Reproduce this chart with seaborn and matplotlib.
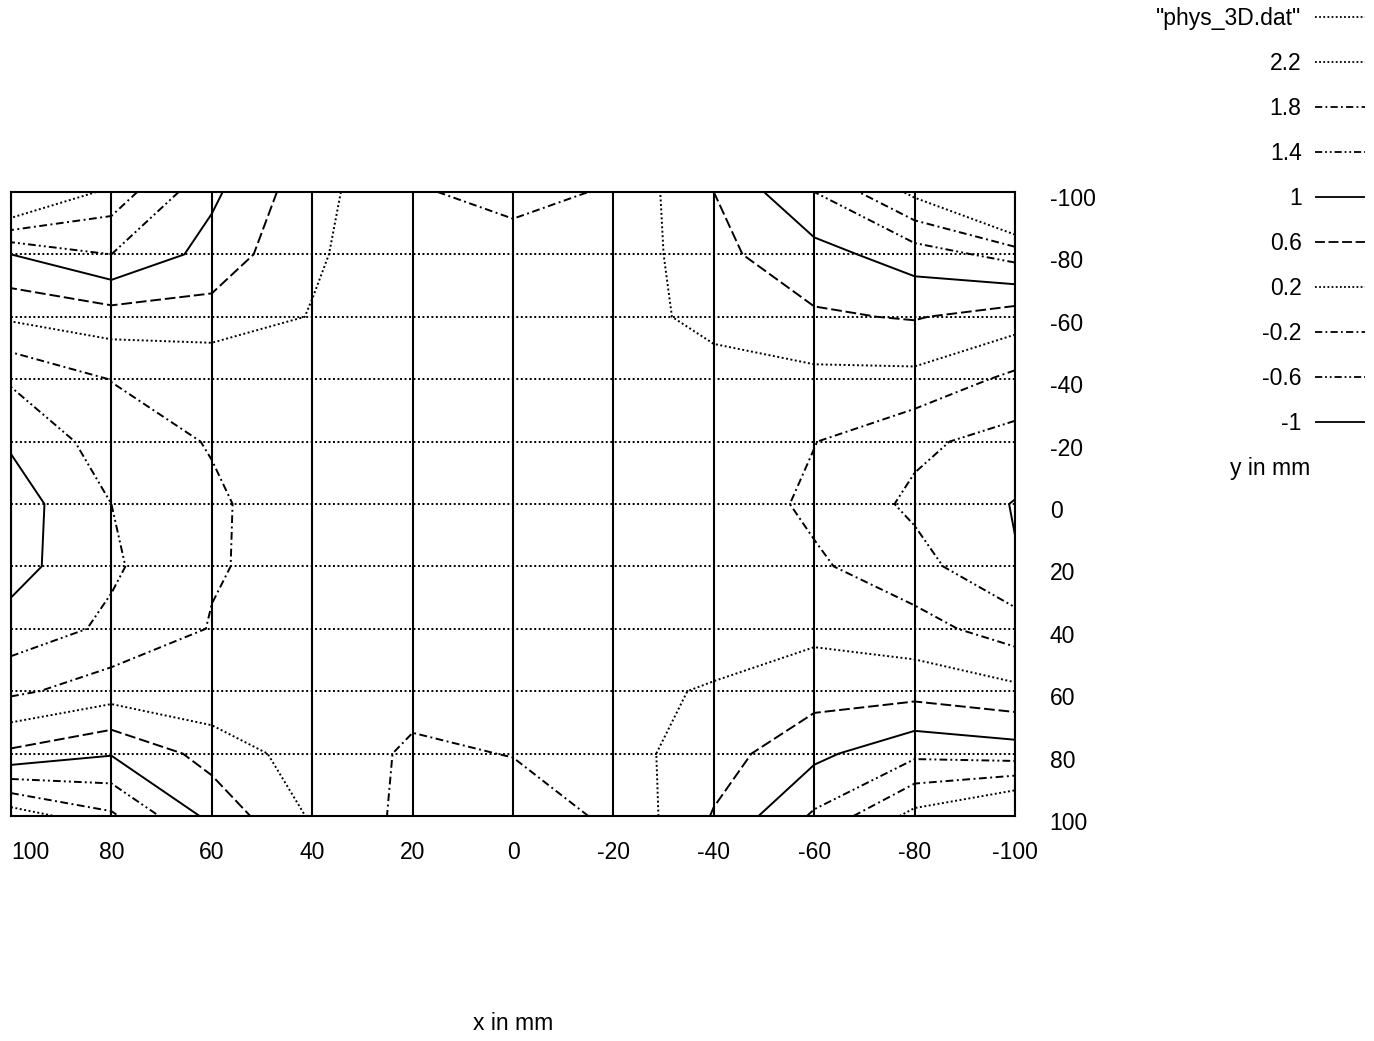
import numpy as np
import pandas as pd
import matplotlib
matplotlib.use("Agg")
import matplotlib.pyplot as plt
from matplotlib.lines import Line2D
from matplotlib.transforms import ScaledTranslation
import seaborn as sns

# ---- data (grid of the surface) ----
x_mm = [100, 80, 60, 40, 20, 0, -20, -40, -60, -80, -100]
y_mm = [-100, -80, -60, -40, -20, 0, 20, 40, 60, 80, 100]

z_y_m100 = [3.05, 2.05, 1.08, 0.34, -0.15, -0.35, -0.15, 0.60, 1.40, 2.30, 3.60]
z_y_m80 = [1.00, 1.40, 0.85, 0.25, -0.05, 0.00, -0.10, 0.50, 0.85, 1.20, 1.55]
z_y_m60 = [0.26, 0.42, 0.45, 0.18, 0.05, 0.05, 0.06, 0.30, 0.55, 0.63, 0.40]
z_y_m40 = [-0.55, -0.19, -0.15, 0.05, 0.00, 0.05, 0.05, 0.07, 0.09, 0.09, -0.30]
z_y_m20 = [-0.95, -0.40, -0.175, 0.00, 0.00, 0.05, 0.05, 0.00, -0.19, -0.52, -0.75]
z_y_0 = [-1.20, -0.60, -0.26, 0.03, 0.00, 0.05, 0.05, 0.05, -0.28, -0.68, -1.02]
z_y_20 = [-1.15, -0.66, -0.23, -0.07, -0.05, 0.00, 0.00, -0.02, -0.14, -0.45, -0.98]
z_y_40 = [-0.85, -0.52, -0.18, -0.05, -0.05, 0.00, 0.00, -0.06, 0.10, -0.05, -0.40]
z_y_60 = [-0.28, 0.00, -0.10, 0.00, -0.10, -0.05, 0.06, 0.25, 0.44, 0.46, 0.30]
z_y_80 = [0.68, 0.97, 0.45, 0.00, -0.25, -0.19, 0.036, 0.42, 0.90, 1.31, 1.20]
z_y_100 = [2.45, 1.87, 0.88, 0.15, -0.32, -0.35, -0.15, 0.63, 1.46, 2.33, 2.90]

levels = [-1.0, -0.6, -0.2, 0.2, 0.6, 1.0, 1.4, 1.8, 2.2]
level_labels = ["-1", "-0.6", "-0.2", "0.2", "0.6", "1", "1.4", "1.8", "2.2"]
mesh_label = '"phys_3D.dat"'
x_tick_labels = ["100", "80", "60", "40", "20", "0", "-20", "-40", "-60", "-80", "-100"]
y_tick_labels = ["-100", "-80", "-60", "-40", "-20", "0", "20", "40", "60", "80", "100"]

# ---- styles ----
DOT = (0, (1.0, 1.3))
DASH = (0, (5.5, 2.0))
DASHDOT = (0, (4.0, 1.8, 1.0, 1.8))
DASHDOTDOT = (0, (4.0, 1.6, 1.0, 1.6, 1.0, 1.6))
SOLID = (0, ())
style_cycle = [SOLID, DASHDOTDOT, DASHDOT, DOT, DASH, SOLID, DASHDOTDOT, DASHDOT, DOT]

sns.set_theme(style="white")
plt.rcParams["font.family"] = ["Liberation Sans", "DejaVu Sans"]
plt.rcParams["text.color"] = "black"
plt.rcParams["axes.labelcolor"] = "black"
plt.rcParams["xtick.color"] = "black"
plt.rcParams["ytick.color"] = "black"
FS = 16.5

fig = plt.figure(figsize=(13.74, 10.41), dpi=100)
ax = fig.add_axes([11 / 1374, 1 - 816 / 1041, 1004 / 1374, 624 / 1041])

Z = np.array([z_y_m100, z_y_m80, z_y_m60, z_y_m40, z_y_m20, z_y_0,
              z_y_20, z_y_40, z_y_60, z_y_80, z_y_100])

# mesh of the data file: horizontal (dotted) and vertical lines
mesh_h = pd.DataFrame([(x, y, y) for y in y_mm for x in x_mm], columns=["x", "y", "row"])
mesh_v = pd.DataFrame([(x, y, x) for x in x_mm for y in y_mm], columns=["x", "y", "col"])
sns.lineplot(data=mesh_h, x="x", y="y", units="row", estimator=None, sort=False,
             color="black", lw=1.4, linestyle=DOT, ax=ax, legend=False)
sns.lineplot(data=mesh_v, x="x", y="y", units="col", estimator=None, sort=False,
             color="black", lw=1.5, linestyle="-", ax=ax, legend=False)

# contours
cs = ax.contour(x_mm, y_mm, Z, levels=levels, colors="black", linewidths=1.4,
                linestyles=style_cycle)

ax.set_xlim(100, -100)
ax.set_ylim(100, -100)

ax.set_xticks(x_mm)
ax.set_xticklabels(x_tick_labels, fontsize=FS, color="black")
ax.set_yticks(y_mm)
ax.set_yticklabels(y_tick_labels, fontsize=FS, color="black")
ax.yaxis.tick_right()
ax.tick_params(axis="x", length=0, pad=18)
ax.tick_params(axis="y", length=0, pad=25)
lbls = ax.get_xticklabels()
lbls[0].set_horizontalalignment("left")
off = ScaledTranslation(0, -5 / 100, fig.dpi_scale_trans)
for lab in ax.get_yticklabels():
    lab.set_transform(lab.get_transform() + off)

for sp in ax.spines.values():
    sp.set_visible(True)
    sp.set_color("black")
    sp.set_linewidth(1.5)

ax.set_xlabel("x in mm", fontsize=FS, color="black", va="center")
ax.xaxis.set_label_coords(0.5, (816 - 1023) / 624)
ax.set_ylabel("y in mm", fontsize=FS, color="black", rotation=0, va="center", ha="center")
ax.yaxis.set_label_position("right")
ax.yaxis.set_label_coords((1270 - 11) / 1004, (816 - 457) / 624)

# legend
handles = [Line2D([], [], color="black", lw=1.3, linestyle=DOT)]
labels = [mesh_label]
for lev, lab, st in reversed(list(zip(levels, level_labels, style_cycle))):
    handles.append(Line2D([], [], color="black", lw=1.3, linestyle=st))
    labels.append(lab)
leg = fig.legend(handles, labels, loc="upper right",
                 bbox_to_anchor=(1365 / 1374, 1 - 7 / 1041),
                 frameon=False, markerfirst=False, fontsize=FS,
                 handlelength=2.2, handletextpad=0.57, labelspacing=0.96,
                 borderpad=0, borderaxespad=0)
for t in leg.get_texts():
    t.set_color("black")

fig.savefig("out.png", dpi=100, facecolor="white")
